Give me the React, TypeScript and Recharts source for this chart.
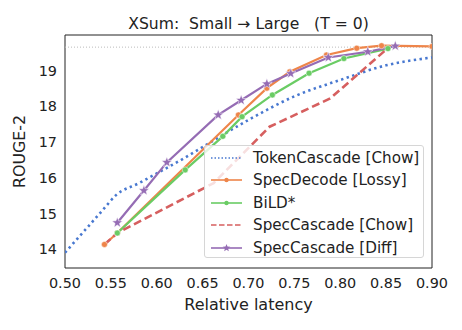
import React from 'react'
import {
  LineChart,
  Line,
  XAxis,
  YAxis,
  ReferenceLine,
  ReferenceArea,
} from 'recharts'

// x = relative latency, y = ROUGE-2
const tokenCascadeX = [0.5, 0.52, 0.54, 0.556, 0.58, 0.6, 0.63, 0.654, 0.7, 0.75, 0.8, 0.85, 0.9]
const tokenCascadeY = [13.9, 14.48, 15.06, 15.52, 15.84, 16.12, 16.55, 16.92, 17.62, 18.28, 18.74, 19.15, 19.37]

const specDecodeX = [0.543, 0.557, 0.689, 0.72, 0.745, 0.785, 0.818, 0.845, 0.9]
const specDecodeY = [14.13, 14.45, 17.76, 18.51, 18.97, 19.44, 19.63, 19.7, 19.68]

const bildX = [0.557, 0.631, 0.672, 0.693, 0.726, 0.766, 0.804, 0.852]
const bildY = [14.45, 16.22, 17.16, 17.71, 18.32, 18.93, 19.34, 19.62]

const specCascadeChowX = [0.543, 0.557, 0.662, 0.723, 0.789, 0.854]
const specCascadeChowY = [14.13, 14.45, 15.85, 17.43, 18.22, 19.68]

const specCascadeDiffX = [0.557, 0.586, 0.611, 0.667, 0.692, 0.72, 0.746, 0.787, 0.83, 0.86]
const specCascadeDiffY = [14.74, 15.64, 16.43, 17.76, 18.17, 18.63, 18.92, 19.37, 19.53, 19.69]

const xTicks = [0.5, 0.55, 0.6, 0.65, 0.7, 0.75, 0.8, 0.85, 0.9]
const yTicks = [14, 15, 16, 17, 18, 19]
const upperBound = 19.66

const COLORS = {
  token: '#4878D0',
  specDecode: '#EE854A',
  bild: '#6ACC64',
  chow: '#D65F5F',
  diff: '#956CB4',
}

const FONT = '"DejaVu Sans", sans-serif'

const toPoints = (xs: number[], ys: number[]) => xs.map((x, i) => ({ x, y: ys[i] }))

function starPath(cx: number, cy: number, ro: number, ri: number) {
  let d = ''
  for (let i = 0; i < 10; i++) {
    const r = i % 2 === 0 ? ro : ri
    const a = -Math.PI / 2 + (i * Math.PI) / 5
    d += (i === 0 ? 'M' : 'L') + (cx + r * Math.cos(a)).toFixed(2) + ',' + (cy + r * Math.sin(a)).toFixed(2)
  }
  return d + 'Z'
}

const StarDot = (props: any) => {
  const { cx, cy, index } = props
  if (cx == null || cy == null) return <g key={index} />
  return <path key={index} d={starPath(cx, cy, 5.5, 2.3)} fill={COLORS.diff} stroke="#fff" strokeWidth={0.5} />
}

const legendItems = [
  { name: 'TokenCascade [Chow]', color: COLORS.token, dash: '1.5 2', marker: 'none' },
  { name: 'SpecDecode [Lossy]', color: COLORS.specDecode, dash: '', marker: 'dot' },
  { name: 'BiLD*', color: COLORS.bild, dash: '', marker: 'dot' },
  { name: 'SpecCascade [Chow]', color: COLORS.chow, dash: '5.5 2.5', marker: 'none' },
  { name: 'SpecCascade [Diff]', color: COLORS.diff, dash: '', marker: 'star' },
]

export default function App() {
  return (
    <div style={{ position: 'fixed', left: 0, top: 0, width: 462, height: 330, background: '#fff', fontFamily: FONT }}>
      <div
        style={{
          position: 'absolute',
          left: 65,
          width: 367,
          top: 14,
          textAlign: 'center',
          fontSize: 15.6,
          color: '#222',
          whiteSpace: 'pre',
          lineHeight: '20px',
        }}
      >
        {'XSum:  Small \u2192 Large   (T = 0)'}
      </div>
      <LineChart width={462} height={330} margin={{ top: 35, right: 30, bottom: 0, left: 0 }}>
        <XAxis
          type="number"
          dataKey="x"
          domain={[0.5, 0.9]}
          ticks={xTicks}
          tickFormatter={(v: number) => v.toFixed(2)}
          allowDataOverflow
          height={62}
          tickLine={false}
          tickSize={0}
          tickMargin={10}
          axisLine={false}
          tick={{ fontSize: 14.4, fill: '#222', fontFamily: FONT }}
          label={{ value: 'Relative latency', position: 'insideBottom', offset: 20, fontSize: 16, fill: '#222', fontFamily: FONT }}
        />
        <YAxis
          type="number"
          dataKey="y"
          domain={[13.47, 20.0]}
          ticks={yTicks}
          allowDataOverflow
          width={65}
          tickLine={false}
          tickSize={0}
          tickMargin={8}
          axisLine={false}
          tick={{ fontSize: 14.4, fill: '#222', fontFamily: FONT }}
          label={{
            value: 'ROUGE-2',
            angle: -90,
            position: 'insideLeft',
            offset: 19,
            fontSize: 15.8,
            fill: '#222',
            fontFamily: FONT,
            style: { textAnchor: 'middle' },
          }}
        />
        <ReferenceLine y={upperBound} stroke="#bbb" strokeWidth={1} strokeDasharray="1 2" />

        <Line
          data={toPoints(tokenCascadeX, tokenCascadeY)}
          dataKey="y"
          type="monotone"
          stroke={COLORS.token}
          strokeWidth={2.6}
          strokeDasharray="2.4 3.4"
          dot={false}
          isAnimationActive={false}
        />
        <Line
          data={toPoints(specDecodeX, specDecodeY)}
          dataKey="y"
          type="linear"
          stroke={COLORS.specDecode}
          strokeWidth={2.2}
          dot={{ r: 3, fill: COLORS.specDecode, stroke: '#fff', strokeWidth: 0.5 }}
          isAnimationActive={false}
        />
        <Line
          data={toPoints(bildX, bildY)}
          dataKey="y"
          type="linear"
          stroke={COLORS.bild}
          strokeWidth={2.2}
          dot={{ r: 3, fill: COLORS.bild, stroke: '#fff', strokeWidth: 0.5 }}
          isAnimationActive={false}
        />
        <Line
          data={toPoints(specCascadeChowX, specCascadeChowY)}
          dataKey="y"
          type="linear"
          stroke={COLORS.chow}
          strokeWidth={2.6}
          strokeDasharray="8 4"
          dot={false}
          isAnimationActive={false}
        />
        <Line
          data={toPoints(specCascadeDiffX, specCascadeDiffY)}
          dataKey="y"
          type="linear"
          stroke={COLORS.diff}
          strokeWidth={2.2}
          dot={StarDot}
          isAnimationActive={false}
        />

        <ReferenceArea x1={0.5} x2={0.9} y1={13.47} y2={20.0} fill="none" stroke="#222" strokeWidth={1} ifOverflow="visible" />
      </LineChart>

      {/* legend box, matplotlib style */}
      <div
        style={{
          position: 'absolute',
          left: 204,
          top: 145,
          width: 220,
          height: 113,
          background: 'rgba(255,255,255,0.8)',
          border: '1px solid #d6d6d6',
          borderRadius: 3,
          boxSizing: 'border-box',
        }}
      >
        {legendItems.map((item, i) => (
          <div
            key={item.name}
            style={{ position: 'absolute', left: 0, top: 1 + i * 22.4, height: 22, display: 'flex', alignItems: 'center' }}
          >
            <svg width={48} height={22} style={{ display: 'block' }}>
              <line x1={6} x2={37} y1={11} y2={11} stroke={item.color} strokeWidth={1.6} strokeDasharray={item.dash || undefined} />
              {item.marker === 'dot' && <circle cx={21.5} cy={11} r={2.2} fill={item.color} />}
              {item.marker === 'star' && <path d={starPath(21.5, 11, 4, 1.7)} fill={item.color} />}
            </svg>
            <span style={{ fontSize: 15.2, color: '#222', whiteSpace: 'pre', lineHeight: '22px' }}>{item.name}</span>
          </div>
        ))}
      </div>
    </div>
  )
}
